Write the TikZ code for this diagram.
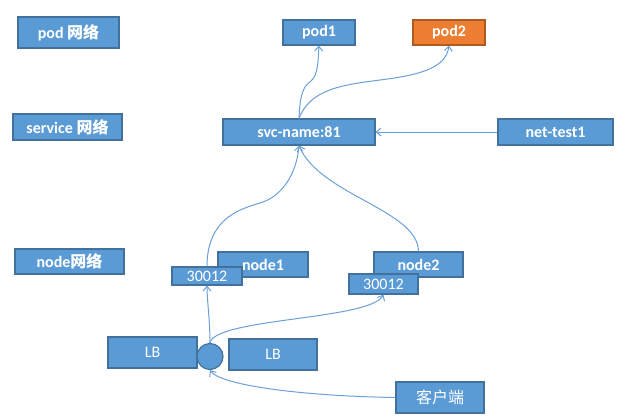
\documentclass[tikz,border=0pt]{standalone}
\usepackage{fontspec}
\setmainfont{Carlito}
\newfontfamily\cjk{Noto Sans CJK SC}
\usetikzlibrary{arrows.meta}
\definecolor{boxfill}{HTML}{5B9BD5}
\definecolor{boxline}{HTML}{41719C}
\definecolor{orfill}{HTML}{ED7D31}
\definecolor{orline}{HTML}{AE5A21}
\definecolor{linkc}{HTML}{6A9FD8}
\begin{document}
\begin{tikzpicture}[x=0.75pt,y=-0.75pt,
  bx/.style 2 args={draw=boxline,fill=boxfill,line width=0.9pt,inner sep=0pt,
     minimum width=#1*0.75pt,minimum height=#2*0.75pt,text=white,
     font=\fontsize{12}{14}\selectfont},
  bb/.style={font=\fontsize{12}{14}\selectfont\bfseries},
  orange/.style={draw=orline,fill=orfill},
  arr/.style={draw=linkc,line width=0.75pt,-{Straight Barb[length=3.5pt,width=6pt]}}]
\useasboundingbox (0,0) rectangle (626,419);
\node[bx={101}{31},bb] (podnet) at (68.5,32.5) {pod {\cjk 网络}};
\node[bx={109}{26},bb] (svcnet) at (67.5,127) {service {\cjk\bfseries 网络}};
\node[bx={109}{25},bb] (nodenet) at (69.5,261.5) {node{\cjk\bfseries 网络}};
\node[bx={72}{25},bb] (pod1) at (319,32.5) {pod1};
\node[bx={72}{25},bb,orange] (pod2) at (449,32.5) {pod2};
\node[bx={152}{26},bb] (svc) at (299,132) {svc-name:81};
\node[bx={115}{26},bb] (nettest) at (555.5,132) {net-test1};
\node[bx={90}{25},bb] (node1) at (263,264.5) {node1};
\node[bx={70}{18}] (port1) at (207,276) {30012};
\node[bx={89}{25},bb] (node2) at (418.5,264.5) {node2};
\node[bx={69}{20}] (port2) at (383.5,284) {30012};
\node[bx={89}{31}] (lbl) at (152.5,352.5) {LB};
\node[draw=boxline,fill=boxfill,line width=0.9pt,circle,inner sep=0pt,minimum size=26*0.75pt] (circ) at (210,356.5) {};
\node[bx={88}{31}] (lbr) at (273,354.5) {LB};
\node[bx={88}{31}] (client) at (440,397.5) {\cjk 客户端};
% connectors
\draw[arr] (circ.north) .. controls (210,320) and (207,300) .. (port1.south);
\draw[arr] (circ.north) .. controls (215,318) and (370,320) .. (port2.south);
\draw[arr] (client.west) .. controls (300,396) and (220,385) .. (circ.south);
\draw[arr] (port1.north) .. controls (207,215) and (245,208) .. (263,202) .. controls (285,194) and (297,170) .. (svc.south);
\draw[arr] (node2.north) .. controls (418,210) and (320,195) .. (svc.south);
\draw[arr] (svc.north) .. controls (300,92) and (304,86) .. (311,81) .. controls (318,75) and (318,62) .. (pod1.south);
\draw[arr] (svc.north) .. controls (310,90) and (340,85) .. (380,80) .. controls (420,75) and (446,68) .. (pod2.south);
\draw[arr] (nettest.west) -- (svc.east);
\end{tikzpicture}
\end{document}
